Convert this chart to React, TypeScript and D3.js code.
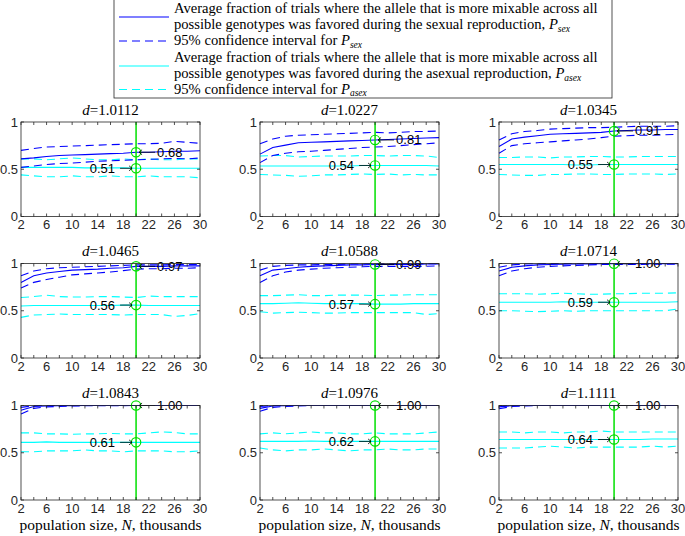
import React from "react";
import * as d3 from "d3";

const populationSizes = [2, 4, 6, 8, 10, 12, 14, 16, 18, 20, 22, 24, 26, 28, 30];
const dValues = ["1.0112", "1.0227", "1.0345", "1.0465", "1.0588", "1.0714", "1.0843", "1.0976", "1.1111"];
const xTicks = [2, 6, 10, 14, 18, 22, 26, 30];
const xMinorTicks = [2, 4, 6, 8, 10, 12, 14, 16, 18, 20, 22, 24, 26, 28, 30];
const yTicks = [0, 0.5, 1];
const yTickLabels = ["0", "0.5", "1"];
const markN = 20;

const pSex = [
  [0.61, 0.62, 0.635, 0.645, 0.65, 0.655, 0.66, 0.665, 0.67, 0.68, 0.68, 0.685, 0.69, 0.69, 0.695],
  [0.66, 0.73, 0.755, 0.78, 0.785, 0.79, 0.795, 0.8, 0.805, 0.81, 0.815, 0.82, 0.825, 0.83, 0.835],
  [0.74, 0.82, 0.84, 0.855, 0.87, 0.875, 0.88, 0.885, 0.89, 0.905, 0.91, 0.915, 0.915, 0.92, 0.92],
  [0.8, 0.87, 0.9, 0.915, 0.93, 0.935, 0.94, 0.95, 0.955, 0.97, 0.97, 0.97, 0.975, 0.975, 0.975],
  [0.87, 0.93, 0.945, 0.96, 0.97, 0.975, 0.98, 0.985, 0.985, 0.99, 0.99, 0.99, 0.99, 0.995, 0.995],
  [0.92, 0.96, 0.975, 0.985, 0.99, 0.992, 0.995, 0.996, 0.997, 0.998, 0.998, 0.999, 0.999, 0.999, 0.999],
  [0.95, 0.99, 0.995, 0.998, 0.999, 1, 1, 1, 1, 1, 1, 1, 1, 1, 1],
  [0.97, 0.995, 0.998, 1, 1, 1, 1, 1, 1, 1, 1, 1, 1, 1, 1],
  [0.985, 0.998, 1, 1, 1, 1, 1, 1, 1, 1, 1, 1, 1, 1, 1],
];
const pSexUpper = [
  [0.7, 0.72, 0.735, 0.74, 0.745, 0.75, 0.755, 0.76, 0.765, 0.77, 0.77, 0.775, 0.795, 0.785, 0.775],
  [0.77, 0.82, 0.85, 0.86, 0.865, 0.87, 0.875, 0.88, 0.885, 0.89, 0.885, 0.89, 0.9, 0.9, 0.905],
  [0.81, 0.875, 0.9, 0.91, 0.925, 0.93, 0.935, 0.94, 0.94, 0.945, 0.95, 0.955, 0.955, 0.955, 0.96],
  [0.87, 0.92, 0.945, 0.955, 0.96, 0.965, 0.97, 0.975, 0.98, 0.985, 0.985, 0.985, 0.99, 0.99, 0.99],
  [0.93, 0.97, 0.98, 0.985, 0.985, 0.99, 0.99, 0.995, 0.995, 0.997, 0.997, 0.998, 0.998, 0.999, 0.999],
  [0.96, 0.985, 0.995, 0.998, 0.999, 1, 1, 1, 1, 1, 1, 1, 1, 1, 1],
  [0.98, 0.998, 1, 1, 1, 1, 1, 1, 1, 1, 1, 1, 1, 1, 1],
  [0.99, 1, 1, 1, 1, 1, 1, 1, 1, 1, 1, 1, 1, 1, 1],
  [0.995, 1, 1, 1, 1, 1, 1, 1, 1, 1, 1, 1, 1, 1, 1],
];
const pSexLower = [
  [0.52, 0.535, 0.55, 0.56, 0.565, 0.575, 0.585, 0.59, 0.595, 0.6, 0.605, 0.61, 0.615, 0.61, 0.62],
  [0.57, 0.645, 0.67, 0.685, 0.69, 0.7, 0.71, 0.72, 0.73, 0.735, 0.74, 0.75, 0.76, 0.77, 0.78],
  [0.67, 0.75, 0.77, 0.78, 0.79, 0.8, 0.81, 0.82, 0.835, 0.85, 0.855, 0.86, 0.86, 0.865, 0.87],
  [0.74, 0.8, 0.83, 0.855, 0.88, 0.89, 0.9, 0.91, 0.925, 0.94, 0.945, 0.945, 0.95, 0.95, 0.955],
  [0.8, 0.87, 0.91, 0.93, 0.94, 0.95, 0.955, 0.96, 0.965, 0.97, 0.97, 0.97, 0.97, 0.97, 0.975],
  [0.87, 0.92, 0.945, 0.96, 0.97, 0.975, 0.98, 0.985, 0.99, 0.99, 0.99, 0.99, 0.992, 0.993, 0.994],
  [0.91, 0.97, 0.985, 0.99, 0.995, 0.997, 0.998, 0.999, 0.999, 1, 1, 1, 1, 1, 1],
  [0.94, 0.98, 0.99, 0.995, 1, 1, 1, 1, 1, 1, 1, 1, 1, 1, 1],
  [0.965, 0.99, 0.995, 1, 1, 1, 1, 1, 1, 1, 1, 1, 1, 1, 1],
];
const pAsex = [
  [0.52, 0.52, 0.52, 0.52, 0.52, 0.515, 0.515, 0.515, 0.515, 0.51, 0.51, 0.51, 0.51, 0.51, 0.51],
  [0.535, 0.535, 0.535, 0.535, 0.535, 0.535, 0.535, 0.535, 0.54, 0.54, 0.54, 0.54, 0.54, 0.54, 0.535],
  [0.55, 0.55, 0.55, 0.55, 0.55, 0.55, 0.545, 0.545, 0.55, 0.55, 0.55, 0.55, 0.55, 0.55, 0.55],
  [0.55, 0.555, 0.555, 0.555, 0.555, 0.555, 0.555, 0.555, 0.56, 0.56, 0.555, 0.555, 0.555, 0.555, 0.555],
  [0.575, 0.575, 0.58, 0.585, 0.58, 0.575, 0.575, 0.575, 0.575, 0.57, 0.57, 0.57, 0.575, 0.575, 0.575],
  [0.59, 0.59, 0.59, 0.59, 0.59, 0.595, 0.59, 0.59, 0.59, 0.59, 0.59, 0.59, 0.59, 0.59, 0.595],
  [0.61, 0.61, 0.615, 0.61, 0.61, 0.61, 0.61, 0.61, 0.61, 0.61, 0.61, 0.61, 0.61, 0.61, 0.61],
  [0.62, 0.62, 0.62, 0.62, 0.625, 0.62, 0.62, 0.62, 0.62, 0.62, 0.62, 0.62, 0.62, 0.62, 0.62],
  [0.64, 0.64, 0.64, 0.64, 0.64, 0.64, 0.64, 0.64, 0.64, 0.64, 0.64, 0.64, 0.645, 0.645, 0.645],
];
const pAsexUpper = [
  [0.61, 0.61, 0.6, 0.61, 0.62, 0.61, 0.6, 0.6, 0.61, 0.6, 0.61, 0.6, 0.6, 0.61, 0.61],
  [0.64, 0.645, 0.645, 0.63, 0.635, 0.64, 0.64, 0.64, 0.645, 0.645, 0.64, 0.645, 0.645, 0.64, 0.625],
  [0.625, 0.625, 0.63, 0.63, 0.62, 0.63, 0.63, 0.635, 0.635, 0.63, 0.63, 0.635, 0.635, 0.635, 0.635],
  [0.64, 0.65, 0.665, 0.65, 0.645, 0.645, 0.65, 0.65, 0.645, 0.64, 0.655, 0.65, 0.65, 0.65, 0.65],
  [0.66, 0.66, 0.665, 0.67, 0.66, 0.66, 0.665, 0.665, 0.665, 0.66, 0.665, 0.665, 0.67, 0.67, 0.67],
  [0.68, 0.68, 0.68, 0.675, 0.68, 0.685, 0.68, 0.675, 0.675, 0.68, 0.68, 0.685, 0.685, 0.685, 0.69],
  [0.71, 0.71, 0.7, 0.7, 0.695, 0.7, 0.7, 0.705, 0.7, 0.7, 0.71, 0.72, 0.715, 0.7, 0.7],
  [0.7, 0.71, 0.7, 0.71, 0.72, 0.71, 0.71, 0.7, 0.7, 0.71, 0.7, 0.7, 0.7, 0.71, 0.72],
  [0.72, 0.72, 0.71, 0.72, 0.72, 0.71, 0.72, 0.72, 0.73, 0.72, 0.72, 0.72, 0.72, 0.72, 0.72],
];
const pAsexLower = [
  [0.44, 0.43, 0.42, 0.42, 0.43, 0.42, 0.42, 0.43, 0.42, 0.42, 0.43, 0.42, 0.42, 0.42, 0.41],
  [0.445, 0.44, 0.435, 0.425, 0.43, 0.44, 0.44, 0.445, 0.45, 0.445, 0.45, 0.44, 0.445, 0.44, 0.44],
  [0.445, 0.44, 0.435, 0.435, 0.445, 0.445, 0.45, 0.45, 0.445, 0.445, 0.45, 0.45, 0.45, 0.445, 0.45],
  [0.43, 0.455, 0.46, 0.465, 0.46, 0.46, 0.46, 0.46, 0.455, 0.46, 0.46, 0.46, 0.44, 0.45, 0.47],
  [0.49, 0.475, 0.48, 0.485, 0.48, 0.475, 0.475, 0.48, 0.48, 0.48, 0.48, 0.48, 0.48, 0.46, 0.47],
  [0.5, 0.5, 0.495, 0.49, 0.495, 0.5, 0.495, 0.5, 0.5, 0.5, 0.5, 0.5, 0.5, 0.5, 0.52],
  [0.51, 0.51, 0.52, 0.52, 0.52, 0.53, 0.52, 0.52, 0.51, 0.52, 0.52, 0.52, 0.51, 0.51, 0.52],
  [0.55, 0.53, 0.52, 0.53, 0.53, 0.54, 0.53, 0.52, 0.53, 0.53, 0.54, 0.53, 0.53, 0.54, 0.54],
  [0.55, 0.55, 0.55, 0.56, 0.57, 0.56, 0.55, 0.56, 0.56, 0.56, 0.56, 0.56, 0.57, 0.56, 0.57],
];

const BLUE = "#0000ff";
const CYAN = "#00ffff";
const GREEN = "#00e000";
const AXIS = "#262626";
const SANS = "Liberation Sans, Arial, Helvetica, sans-serif";
const SERIF = "Liberation Serif, Times New Roman, Times, DejaVu Serif, serif";

const colLeft = [21, 260, 499];
const rowTop = [122, 263.5, 405.5];
const plotW = 179;
const plotH = 94.5;

function Panel({ idx }: { idx: number }) {
  const col = idx % 3;
  const row = Math.floor(idx / 3);
  const x0 = colLeft[col];
  const y0 = rowTop[row];
  const x = d3.scaleLinear().domain([2, 30]).range([x0, x0 + plotW]);
  const y = d3.scaleLinear().domain([0, 1]).range([y0 + plotH, y0]);
  const line = d3
    .line<number>()
    .x((_, i) => x(populationSizes[i]))
    .y((v) => y(v));
  const mi = populationSizes.indexOf(markN);
  const vs = pSex[idx][mi];
  const va = pAsex[idx][mi];
  const cx = x(markN);
  const ys = y(vs);
  const ya = y(va);
  const tick = 3;
  const dash = "8,5";
  const sw = 1.1;
  return (
    <g>
      <text x={x0 + plotW / 2} y={y0 - 7.5} textAnchor="middle" style={{ fontFamily: SERIF }} fontSize={15} fill="#000">
        <tspan fontStyle="italic">d</tspan>={dValues[idx]}
      </text>
      <path d={line(pAsexUpper[idx]) || ""} fill="none" stroke={CYAN} strokeWidth={sw} strokeDasharray={dash} />
      <path d={line(pAsexLower[idx]) || ""} fill="none" stroke={CYAN} strokeWidth={sw} strokeDasharray={dash} />
      <path d={line(pAsex[idx]) || ""} fill="none" stroke={CYAN} strokeWidth={sw} />
      <path d={line(pSexUpper[idx]) || ""} fill="none" stroke={BLUE} strokeWidth={sw} strokeDasharray={dash} />
      <path d={line(pSexLower[idx]) || ""} fill="none" stroke={BLUE} strokeWidth={sw} strokeDasharray={dash} />
      <path d={line(pSex[idx]) || ""} fill="none" stroke={BLUE} strokeWidth={sw} />
      <line x1={cx} x2={cx} y1={y0} y2={y0 + plotH} stroke={GREEN} strokeWidth={1.5} />
      <circle cx={cx} cy={ys} r={4.7} fill="none" stroke={GREEN} strokeWidth={1.2} />
      <circle cx={cx} cy={ya} r={4.7} fill="none" stroke={GREEN} strokeWidth={1.2} />
      <path d={`M${cx + 3},${ys} L${cx + 19},${ys} M${cx + 6},${ys - 2.5} L${cx + 3},${ys} L${cx + 6},${ys + 2.5}`} fill="none" stroke="#000" strokeWidth={0.8} />
      <text x={cx + 21} y={ys + 4.5} style={{ fontFamily: SANS }} fontSize={13} fill="#000">
        {vs.toFixed(2)}
      </text>
      <path d={`M${cx - 16},${ya} L${cx - 4},${ya} M${cx - 7},${ya - 2.5} L${cx - 4},${ya} L${cx - 7},${ya + 2.5}`} fill="none" stroke="#000" strokeWidth={0.8} />
      <text x={cx - 21} y={ya + 4.5} textAnchor="end" style={{ fontFamily: SANS }} fontSize={13} fill="#000">
        {va.toFixed(2)}
      </text>
      <rect x={x0} y={y0} width={plotW} height={plotH} fill="none" stroke={AXIS} strokeWidth={0.8} />
      {xMinorTicks.map((t) => (
        <g key={"xt" + t}>
          <line x1={x(t)} x2={x(t)} y1={y0 + plotH} y2={y0 + plotH - tick} stroke={AXIS} strokeWidth={0.8} />
          <line x1={x(t)} x2={x(t)} y1={y0} y2={y0 + tick} stroke={AXIS} strokeWidth={0.8} />
        </g>
      ))}
      {yTicks.map((t) => (
        <g key={"yt" + t}>
          <line x1={x0} x2={x0 + tick} y1={y(t)} y2={y(t)} stroke={AXIS} strokeWidth={0.8} />
          <line x1={x0 + plotW} x2={x0 + plotW - tick} y1={y(t)} y2={y(t)} stroke={AXIS} strokeWidth={0.8} />
        </g>
      ))}
      {xTicks.map((t) => (
        <text key={"xl" + t} x={x(t)} y={y0 + plotH + 12.5} textAnchor="middle" style={{ fontFamily: SANS }} fontSize={13} fill={AXIS}>
          {t}
        </text>
      ))}
      {yTicks.map((t, i) => (
        <text key={"yl" + t} x={x0 - 3} y={y(t) + 4.5} textAnchor="end" style={{ fontFamily: SANS }} fontSize={13} fill={AXIS}>
          {yTickLabels[i]}
        </text>
      ))}
      {row === 2 && (
        <text x={x0 + plotW / 2} y={530} textAnchor="middle" style={{ fontFamily: SERIF }} fontSize={15.5} fill="#000">
          population size, <tspan fontStyle="italic">N</tspan>, thousands
        </text>
      )}
    </g>
  );
}

const legendLine1 = "Average fraction of trials where the allele that is more mixable across all";
const legendSexLine2 = "possible genotypes was favored during the sexual reproduction, ";
const legendAsexLine2 = "possible genotypes was favored during the asexual reproduction, ";
const legendCI = "95% confidence interval for ";

function Sub({ s }: { s: string }) {
  return (
    <>
      <tspan fontStyle="italic">P</tspan>
      <tspan fontStyle="italic" fontSize={9.5} dy={2.5}>{s}</tspan>
    </>
  );
}

function Legend() {
  const lx = 114;
  const rx = 612;
  const tx = 174;
  const fs = 14.6;
  const base = [13, 29, 45, 62, 78, 93.5];
  const sampleY = [(base[0] + base[1]) / 2 - 4, base[2] - 4, (base[3] + base[4]) / 2 - 4, base[5] - 4];
  return (
    <g>
      <rect x={lx} y={-1} width={rx - lx} height={99} fill="#fff" stroke={AXIS} strokeWidth={0.8} />
      <line x1={119} x2={169} y1={sampleY[0]} y2={sampleY[0]} stroke={BLUE} strokeWidth={1.1} />
      <line x1={119} x2={169} y1={sampleY[1]} y2={sampleY[1]} stroke={BLUE} strokeWidth={1.1} strokeDasharray="8,5" />
      <line x1={119} x2={169} y1={sampleY[2]} y2={sampleY[2]} stroke={CYAN} strokeWidth={1.1} />
      <line x1={119} x2={169} y1={sampleY[3]} y2={sampleY[3]} stroke={CYAN} strokeWidth={1.1} strokeDasharray="8,5" />
      <g style={{ fontFamily: SERIF }} fontSize={fs} fill="#000">
        <text x={tx} y={base[0]}>{legendLine1}</text>
        <text x={tx} y={base[1]}>{legendSexLine2}<Sub s="sex" /></text>
        <text x={tx} y={base[2]}>{legendCI}<Sub s="sex" /></text>
        <text x={tx} y={base[3]}>{legendLine1}</text>
        <text x={tx} y={base[4]}>{legendAsexLine2}<Sub s="asex" /></text>
        <text x={tx} y={base[5]}>{legendCI}<Sub s="asex" /></text>
      </g>
    </g>
  );
}

export default function App() {
  return (
    <svg width={685} height={536} style={{ position: "absolute", left: 0, top: 0, background: "#fff" }}>
      <rect x={0} y={0} width={685} height={536} fill="#fff" />
      {dValues.map((_, i) => (
        <Panel key={i} idx={i} />
      ))}
      <Legend />
    </svg>
  );
}
